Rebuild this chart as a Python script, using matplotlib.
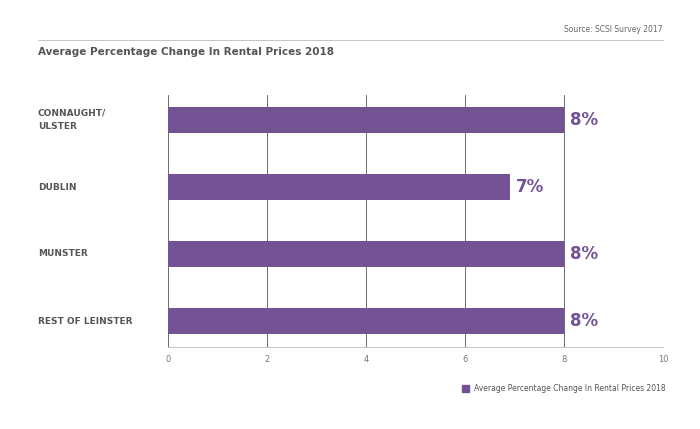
import matplotlib
matplotlib.use("Agg")
import matplotlib.pyplot as plt

categories = ["CONNAUGHT/\nULSTER", "DUBLIN", "MUNSTER", "REST OF LEINSTER"]
values = [8, 6.9, 8, 8]
labels = ["8%", "7%", "8%", "8%"]
ticks = [0, 2, 4, 6, 8, 10]
purple = "#735394"

fig = plt.figure(figsize=(7, 4.29), dpi=100)
ax = fig.add_axes([168/700, 1-347/429, (663-168)/700, (347-95)/429])
ys = list(range(len(categories)))
ax.barh(ys, values, height=0.39, color=purple, zorder=2)
ax.set_ylim(3.39, -0.373)
ax.set_xlim(0, 10)
ax.set_xticks(ticks)
ax.set_xticklabels([str(t) for t in ticks], fontsize=6, color="#777777")
ax.tick_params(axis="x", length=0, pad=6)
ax.set_yticks([])
for s in ["top", "right", "left"]:
    ax.spines[s].set_visible(False)
ax.spines["bottom"].set_color("#bbbbbb")
ax.spines["bottom"].set_linewidth(0.6)
ax.grid(axis="x", color="#555555", linewidth=0.6, zorder=1)
for y, v, l in zip(ys, values, labels):
    ax.text(v + 0.12, y, l, va="center", ha="left", fontsize=12, fontweight="bold", color=purple)
for y, c in zip(ys, categories):
    fig.text(38/700, 1-(120 + y*67)/429, c, fontsize=6.5, fontweight="bold", color="#555555", va="center", ha="left", linespacing=1.6)

fig.text(38/700, 1-52/429, "Average Percentage Change In Rental Prices 2018", fontsize=7.5, fontweight="bold", color="#555555", va="center")
fig.text(663/700, 1-30/429, "Source: SCSI Survey 2017", fontsize=5.5, color="#666666", va="center", ha="right")
fig.add_artist(plt.Line2D([38/700, 663/700], [1-40/429, 1-40/429], color="#bbbbbb", linewidth=0.6))
fig.add_artist(plt.Rectangle((462/700, 1-392/429), 7/700, 7/429, color=purple))
fig.text(474/700, 1-388.5/429, "Average Percentage Change In Rental Prices 2018", fontsize=5.5, color="#555555", va="center")
fig.savefig("out.png", dpi=100, facecolor="white")
